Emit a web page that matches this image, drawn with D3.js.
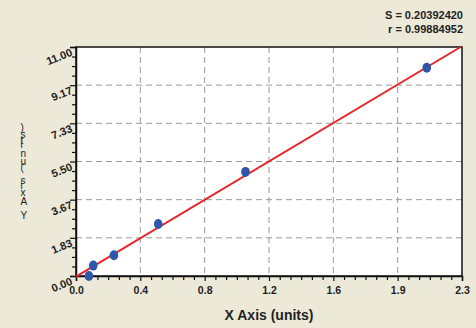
<!DOCTYPE html>
<html>
<head>
<meta charset="utf-8">
<script src="https://cdn.jsdelivr.net/npm/d3@7"></script>
<style>
  body { margin: 0; background: #ece9d9; }
  svg { display: block; font-family: "Liberation Sans", Arial, sans-serif; }
</style>
</head>
<body>
<svg id="chart"></svg>
<script>
const W = 476, H = 328;

// standards
const xValues = [0.077, 0.103, 0.226, 0.49, 1.01, 2.09];
const yValues = [0, 0.5, 1.0, 2.5, 5.0, 10.0];

// fitted line
const fitSlope = 4.813, fitIntercept = -0.03;

const xTickLabels = ["0.0", "0.4", "0.8", "1.2", "1.6", "1.9", "2.3"];
const yTickLabels = ["0.00", "1.83", "3.67", "5.50", "7.33", "9.17", "11.00"];
const statLines = ["S = 0.20392420", "r = 0.99884952"];

const margin = {top: 47, right: 14, bottom: 52, left: 76};
const width = W - margin.left - margin.right,
  height = H - margin.top - margin.bottom;

const svg = d3.select("#chart").attr("width", W).attr("height", H);

svg.append("rect").attr("width", W).attr("height", H).attr("fill", "#ece9d9");

const plot = svg.append("g").attr("transform", `translate(${margin.left},${margin.top})`);

const xMax = 2.3, yMax = 11;
const x = d3.scaleLinear().domain([0, xMax]).range([0, width]);
const y = d3.scaleLinear().domain([0, yMax]).range([height, 0]);

const xMajor = d3.range(7).map(i => i * xMax / 6);
const yMajor = d3.range(7).map(i => i * yMax / 6);
const xMinor = d3.range(37).map(i => i * xMax / 36).filter((d, i) => i % 6 !== 0);
const yMinor = d3.range(25).map(i => i * yMax / 24).filter((d, i) => i % 4 !== 0);

plot.append("rect").attr("width", width).attr("height", height).attr("fill", "#fff");

// dashed grid
plot.append("g").selectAll("line").data(xMajor.slice(1, -1)).join("line")
  .attr("x1", d => x(d)).attr("x2", d => x(d)).attr("y1", 0).attr("y2", height)
  .attr("stroke", "#9a9a9a").attr("stroke-dasharray", "6,4");
plot.append("g").selectAll("line").data(yMajor.slice(1, -1)).join("line")
  .attr("y1", d => y(d)).attr("y2", d => y(d)).attr("x1", 0).attr("x2", width)
  .attr("stroke", "#9a9a9a").attr("stroke-dasharray", "6,4");

// frame
plot.append("rect").attr("width", width).attr("height", height)
  .attr("fill", "none").attr("stroke", "#111").attr("stroke-width", 1.5);

// axes
const xAxis = plot.append("g").attr("transform", `translate(0,${height})`)
  .call(d3.axisBottom(x).tickValues(xMajor).tickSize(5).tickPadding(6)
    .tickFormat((d, i) => xTickLabels[i]));
plot.append("g").attr("transform", `translate(0,${height})`)
  .call(d3.axisBottom(x).tickValues(xMinor).tickSize(4).tickFormat(""))
  .call(g => g.select(".domain").remove());

const yAxis = plot.append("g")
  .call(d3.axisLeft(y).tickValues(yMajor).tickSize(6).tickFormat((d, i) => yTickLabels[i]));
plot.append("g")
  .call(d3.axisLeft(y).tickValues(yMinor).tickSize(4).tickFormat(""))
  .call(g => g.select(".domain").remove());

plot.selectAll(".tick line").attr("stroke", "#111").attr("stroke-width", 1.2);
plot.selectAll(".domain").attr("stroke", "#111").attr("stroke-width", 1.5);

xAxis.selectAll("text").attr("font-size", 10.5).attr("font-weight", "bold").attr("fill", "#222");
yAxis.selectAll("text")
  .attr("font-size", 11).attr("font-weight", "bold").attr("fill", "#222")
  .attr("x", -6).attr("dy", "0.75em")
  .attr("transform", "rotate(-22,-6,0)");

// fitted line
const lineX = [0, (yMax - fitIntercept) / fitSlope];
plot.append("path")
  .datum(lineX)
  .attr("d", d3.line().x(d => x(d)).y(d => y(fitSlope * d + fitIntercept)))
  .attr("fill", "none").attr("stroke", "#e8242b").attr("stroke-width", 2);

// points
plot.append("g").selectAll("ellipse").data(xValues).join("ellipse")
  .attr("cx", d => x(d)).attr("cy", (d, i) => y(yValues[i]))
  .attr("rx", 4.3).attr("ry", 5)
  .attr("fill", "#2f56a8");

// stats
svg.append("g").selectAll("text").data(statLines).join("text")
  .attr("x", 463).attr("y", (d, i) => 19 + i * 14)
  .attr("text-anchor", "end").attr("font-size", 11).attr("font-weight", "bold")
  .attr("fill", "#222").text(d => d);

// axis titles
svg.append("text")
  .attr("x", margin.left + width / 2).attr("y", 320)
  .attr("text-anchor", "middle").attr("font-size", 14).attr("font-weight", "bold")
  .attr("fill", "#222").text("X Axis (units)");

// y title: runs bottom to top, each glyph turned back upright
svg.append("text")
  .attr("transform", "translate(17,172) rotate(-90)")
  .attr("text-anchor", "middle").attr("dominant-baseline", "central")
  .attr("rotate", 90).attr("letter-spacing", 2.6)
  .attr("font-size", 10).attr("fill", "#222")
  .text("Y Axis (units)");
</script>
</body>
</html>
